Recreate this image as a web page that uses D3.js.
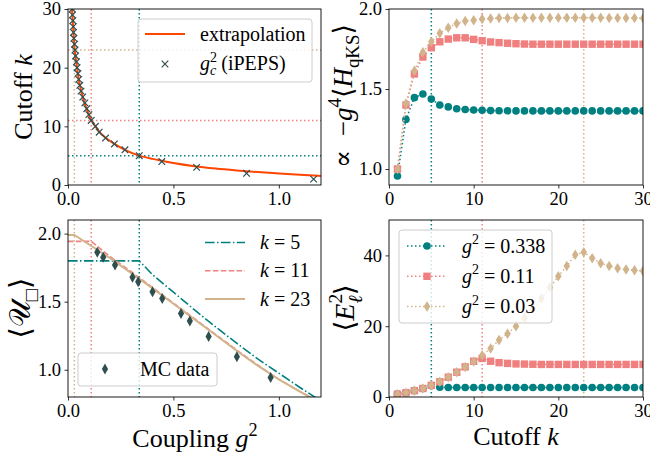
<!DOCTYPE html>
<html>
<head>
<meta charset="utf-8">
<script src="https://cdn.jsdelivr.net/npm/d3@7"></script>
<style>
  body { margin: 0; background: #fff; }
  text { font-family: "Liberation Serif", "DejaVu Serif", serif; fill: #000; }
</style>
</head>
<body>
<svg id="chart" width="650" height="457"></svg>
<script>
// ---- data ----
var cutoffK = [1, 2, 3, 4, 5, 6, 7, 8, 9, 10, 11, 12, 13, 14, 15, 16, 17, 18, 19, 20, 21, 22, 23, 24, 25, 26, 27, 28, 29, 30];

// top left: critical coupling from iPEPS and extrapolation
var gcIpeps = [1.165, 0.847, 0.61, 0.445, 0.338, 0.27, 0.22, 0.178, 0.148, 0.13, 0.11, 0.099, 0.089, 0.08, 0.07, 0.062, 0.056, 0.051, 0.047, 0.043, 0.04, 0.036, 0.033, 0.031, 0.028, 0.026, 0.025, 0.023, 0.021, 0.02];
var extrapG = [0.019, 0.022, 0.026, 0.03, 0.035, 0.04, 0.05, 0.06, 0.07, 0.08, 0.09, 0.1, 0.11, 0.13, 0.15, 0.18, 0.22, 0.27, 0.338, 0.4, 0.45, 0.5, 0.6, 0.7, 0.8, 0.9, 1.0, 1.1, 1.2];
var extrapK = [30, 28.3, 26, 23.7, 22, 20.8, 18.2, 16.4, 15, 13.8, 12.8, 11.8, 11.1, 10, 9, 8, 7, 6, 5, 4.45, 4.1, 3.75, 3.2, 2.8, 2.48, 2.2, 1.97, 1.75, 1.55];

// top right: -g^4 <H_qKS>
var hqTeal = [0.956, 1.31, 1.446, 1.469, 1.437, 1.40, 1.388, 1.377, 1.372, 1.369, 1.367, 1.365, 1.364, 1.364, 1.363, 1.363, 1.363, 1.363, 1.363, 1.363, 1.363, 1.363, 1.363, 1.363, 1.363, 1.363, 1.363, 1.363, 1.363, 1.363];
var hqCoral = [1.0, 1.40, 1.594, 1.70, 1.758, 1.795, 1.812, 1.82, 1.82, 1.81, 1.802, 1.794, 1.79, 1.786, 1.783, 1.781, 1.78, 1.78, 1.78, 1.78, 1.78, 1.78, 1.78, 1.78, 1.78, 1.78, 1.78, 1.78, 1.78, 1.78];
var hqTan = [1.0, 1.41, 1.614, 1.73, 1.795, 1.848, 1.883, 1.91, 1.925, 1.93, 1.937, 1.94, 1.943, 1.944, 1.945, 1.945, 1.945, 1.945, 1.945, 1.945, 1.945, 1.945, 1.945, 1.945, 1.945, 1.944, 1.944, 1.943, 1.943, 1.942];

// bottom right: <E^2>
var e2Teal = [0.8, 1.2, 1.8, 2.4, 3.2, 2.75, 2.7, 2.7, 2.7, 2.7, 2.7, 2.7, 2.7, 2.7, 2.7, 2.7, 2.7, 2.7, 2.7, 2.7, 2.7, 2.7, 2.7, 2.7, 2.7, 2.7, 2.7, 2.7, 2.7, 2.7];
var e2Coral = [0.8, 1.2, 1.8, 2.4, 3.3, 4.3, 5.6, 7.0, 8.5, 10.1, 10.9, 10.1, 9.7, 9.5, 9.35, 9.3, 9.25, 9.2, 9.2, 9.2, 9.2, 9.2, 9.2, 9.2, 9.2, 9.2, 9.2, 9.2, 9.2, 9.2];
var e2Tan = [0.8, 1.2, 1.8, 2.4, 3.3, 4.3, 5.6, 7.0, 8.5, 10.0, 11.8, 13.7, 16.1, 17.9, 20.0, 22.3, 25.0, 27.8, 30.9, 34.1, 37.0, 40.2, 40.9, 39.2, 37.8, 37.0, 36.4, 36.0, 35.8, 35.6];

// bottom left: plaquette expectation value
var mcG = [0.139, 0.167, 0.223, 0.306, 0.333, 0.401, 0.447, 0.536, 0.578, 0.667, 0.801, 0.961];
var mcU = [1.864, 1.827, 1.770, 1.679, 1.647, 1.573, 1.523, 1.413, 1.358, 1.244, 1.096, 0.943];
var u5G = [0, 0.338, 0.4, 0.5, 0.6, 0.7, 0.8, 0.9, 1.0, 1.1, 1.2];
var u5U = [1.80, 1.80, 1.70, 1.57, 1.44, 1.315, 1.195, 1.08, 0.975, 0.87, 0.77];
var u11G = [0, 0.11, 0.2, 0.3, 0.4, 0.5, 0.6, 0.7, 0.8, 0.9, 1.0, 1.1, 1.2];
var u11U = [1.943, 1.943, 1.83, 1.72, 1.605, 1.49, 1.375, 1.26, 1.145, 1.035, 0.93, 0.84, 0.755];
var u23G = [0, 0.03, 0.1, 0.2, 0.3, 0.4, 0.5, 0.6, 0.7, 0.8, 0.9, 1.0, 1.1, 1.2];
var u23U = [1.99, 1.99, 1.92, 1.82, 1.71, 1.60, 1.485, 1.37, 1.255, 1.14, 1.03, 0.93, 0.84, 0.755];

// marked couplings / cutoffs
var markG = [0.338, 0.11, 0.03];
var markK = [5, 11, 23];
var markColor = ["#008080", "#f08080", "#d2b48c"];
var gLabels = ["0.338", "0.11", "0.03"];

var gTicks = [0, 0.5, 1.0];
var kTicks = [0, 10, 20, 30];

var darkSlate = "#2f4f4f";
var orange = "#ff4500";

var svg = d3.select("#chart");
var tickFont = 18.5;
var legFont = 20;
var labelFont = 26;

// text with italic / sup / sub pieces; "stack" puts a sub right under the previous sup
function richText(parent, x, y, parts, fs, anchor) {
  var t = parent.append("text").attr("x", x).attr("y", y)
    .attr("font-size", fs).attr("text-anchor", anchor || "start");
  var shift = 0, prev = null;
  parts.forEach(function(p) {
    var s = t.append("tspan").text(p.t);
    var target = p.sup ? -0.42 * fs : p.sub ? 0.27 * fs : 0;
    if (target - shift !== 0) s.attr("dy", target - shift);
    shift = target;
    if (p.sup || p.sub) s.attr("font-size", fs * 0.7);
    if (p.i) s.attr("font-style", "italic");
    if (p.stack && prev) s.attr("dx", -prev.node().getComputedTextLength());
    prev = s;
  });
  return t;
}

var clipId = 0;
function makePanel(x0, x1, y0, y1, xDom, yDom, xTicks, yTicks, xFmt, yFmt) {
  var x = d3.scaleLinear().domain(xDom).range([x0, x1]);
  var y = d3.scaleLinear().domain(yDom).range([y1, y0]);
  var g = svg.append("g");
  clipId++;
  svg.append("clipPath").attr("id", "clip" + clipId)
    .append("rect").attr("x", x0).attr("y", y0).attr("width", x1 - x0).attr("height", y1 - y0);
  var plot = g.append("g").attr("clip-path", "url(#clip" + clipId + ")");

  var xa = g.append("g").attr("transform", "translate(0," + y1 + ")")
    .call(d3.axisBottom(x).tickValues(xTicks).tickFormat(xFmt).tickSize(3.5).tickSizeOuter(0).tickPadding(3));
  var ya = g.append("g").attr("transform", "translate(" + x0 + ",0)")
    .call(d3.axisLeft(y).tickValues(yTicks).tickFormat(yFmt).tickSize(3.5).tickSizeOuter(0).tickPadding(3.5));
  [xa, ya].forEach(function(a) {
    a.select(".domain").remove();
    a.selectAll("text").attr("font-size", tickFont).attr("font-family", null);
    a.selectAll("line").attr("stroke", "#000").attr("stroke-width", 0.8);
  });
  var frame = g.append("rect").attr("x", x0).attr("y", y0).attr("width", x1 - x0).attr("height", y1 - y0)
    .attr("fill", "none").attr("stroke", "#000").attr("stroke-width", 0.9);
  return { g: g, plot: plot, x: x, y: y, frame: frame, x0: x0, x1: x1, y0: y0, y1: y1 };
}

function dotted(sel, color) {
  return sel.attr("stroke", color).attr("stroke-width", 1.5).attr("stroke-dasharray", "1.5,2.5").attr("fill", "none");
}

function diamondPath(w, h) {
  return "M0," + (-h / 2) + "L" + (w / 2) + ",0L0," + (h / 2) + "L" + (-w / 2) + ",0Z";
}

function marker(sel, type, color) {
  if (type === "circle") {
    sel.append("circle").attr("r", 3.8).attr("fill", color);
  } else if (type === "square") {
    sel.append("rect").attr("x", -3.7).attr("y", -3.7).attr("width", 7.4).attr("height", 7.4).attr("fill", color);
  } else if (type === "diamond") {
    sel.append("path").attr("d", diamondPath(6.6, 10.5)).attr("fill", color);
  } else if (type === "mc") {
    sel.append("path").attr("d", diamondPath(6.2, 11)).attr("fill", color);
  } else if (type === "cross") {
    sel.append("path").attr("d", "M-3.3,-3.3L3.3,3.3M-3.3,3.3L3.3,-3.3")
      .attr("stroke", color).attr("stroke-width", 1.2).attr("fill", "none");
  }
}

function legendBox(parent, x, y, w, h) {
  parent.append("rect").attr("x", x).attr("y", y).attr("width", w).attr("height", h)
    .attr("rx", 3).attr("fill", "#fff").attr("fill-opacity", 0.8)
    .attr("stroke", "#cccccc").attr("stroke-width", 1);
}

var fmt1 = d3.format(".1f");
var fmt0 = d3.format("d");

// ================= top left =================
var p1 = makePanel(68, 321, 9, 185, [0, 1.2], [0, 30], gTicks, [0, 10, 20, 30], fmt1, fmt0);
markG.forEach(function(v, i) {
  dotted(p1.plot.append("line"), markColor[i]).attr("x1", p1.x(v)).attr("x2", p1.x(v)).attr("y1", p1.y0).attr("y2", p1.y1);
  dotted(p1.plot.append("line"), markColor[i]).attr("x1", p1.x0).attr("x2", p1.x1).attr("y1", p1.y(markK[i])).attr("y2", p1.y(markK[i]));
});
var extrapData = extrapG.map(function(g, i) { return [g, extrapK[i]]; });
p1.plot.append("path").datum(extrapData)
  .attr("d", d3.line().x(function(d) { return p1.x(d[0]); }).y(function(d) { return p1.y(d[1]); }).curve(d3.curveMonotoneX))
  .attr("fill", "none").attr("stroke", orange).attr("stroke-width", 2);
p1.plot.selectAll(".cx").data(gcIpeps).enter().append("g").attr("class", "cx")
  .attr("transform", function(d, i) { return "translate(" + p1.x(d) + "," + p1.y(cutoffK[i]) + ")"; })
  .each(function() { marker(d3.select(this), "cross", darkSlate); });
p1.frame.raise();
legendBox(p1.g, 138, 19, 174, 63);
p1.g.append("line").attr("x1", 145).attr("x2", 185).attr("y1", 34).attr("y2", 34).attr("stroke", orange).attr("stroke-width", 2);
richText(p1.g, 200, 40.5, [{ t: "extrapolation" }], legFont);
marker(p1.g.append("g").attr("transform", "translate(165,64)"), "cross", darkSlate);
richText(p1.g, 200, 70, [{ t: "g", i: 1 }, { t: "2", sup: 1 }, { t: "c", i: 1, sub: 1, stack: 1 }, { t: " (iPEPS)" }], legFont);
richText(svg.append("g").attr("transform", "translate(32,97) rotate(-90)"), 0, 0,
  [{ t: "Cutoff " }, { t: "k", i: 1 }], labelFont, "middle");

// ================= top right =================
var p2 = makePanel(389, 643, 9, 185, [0, 30], [0.9, 2.0], kTicks, [1.0, 1.5, 2.0], fmt0, fmt1);
markK.forEach(function(v, i) {
  dotted(p2.plot.append("line"), markColor[i]).attr("x1", p2.x(v)).attr("x2", p2.x(v)).attr("y1", p2.y0).attr("y2", p2.y1);
});
function series(p, vals, color, type) {
  var pts = vals.map(function(v, i) { return [cutoffK[i], v]; });
  dotted(p.plot.append("path").datum(pts), color)
    .attr("d", d3.line().x(function(d) { return p.x(d[0]); }).y(function(d) { return p.y(d[1]); }));
  p.plot.selectAll(null).data(pts).enter().append("g")
    .attr("transform", function(d) { return "translate(" + p.x(d[0]) + "," + p.y(d[1]) + ")"; })
    .each(function() { marker(d3.select(this), type, color); });
}
series(p2, hqTeal, markColor[0], "circle");
series(p2, hqCoral, markColor[1], "square");
series(p2, hqTan, markColor[2], "diamond");
p2.frame.raise();
richText(svg.append("g").attr("transform", "translate(352,96) rotate(-90)"), 0, 0,
  [{ t: "\u221D\u2002\u2212" }, { t: "g", i: 1 }, { t: "4", sup: 1 }, { t: "\u27E8" }, { t: "H", i: 1 },
   { t: "qKS", sub: 1 }, { t: "\u27E9" }], 27, "middle");

// ================= bottom left =================
var p3 = makePanel(68, 321, 220, 397, [0, 1.2], [0.8, 2.1], gTicks, [1.0, 1.5, 2.0], fmt1, fmt1);
markG.forEach(function(v, i) {
  dotted(p3.plot.append("line"), markColor[i]).attr("x1", p3.x(v)).attr("x2", p3.x(v)).attr("y1", p3.y0).attr("y2", p3.y1);
});
var uLine = d3.line().x(function(d) { return p3.x(d[0]); }).y(function(d) { return p3.y(d[1]); });
var uSets = [
  { g: u5G, u: u5U, c: markColor[0], dash: "9.6,2.4,1.5,2.4", w: 1.6, label: "5" },
  { g: u11G, u: u11U, c: markColor[1], dash: "5.5,2.4", w: 1.6, label: "11" },
  { g: u23G, u: u23U, c: markColor[2], dash: null, w: 2, label: "23" }
];
uSets.forEach(function(s) {
  p3.plot.append("path").datum(s.g.map(function(g, i) { return [g, s.u[i]]; }))
    .attr("d", uLine).attr("fill", "none").attr("stroke", s.c).attr("stroke-width", s.w)
    .attr("stroke-dasharray", s.dash);
});
p3.plot.selectAll(null).data(mcG).enter().append("g")
  .attr("transform", function(d, i) { return "translate(" + p3.x(d) + "," + p3.y(mcU[i]) + ")"; })
  .each(function() { marker(d3.select(this), "mc", darkSlate); });
p3.frame.raise();
uSets.forEach(function(s, i) {
  var yy = 242.5 + i * 28.3;
  p3.g.append("line").attr("x1", 205).attr("x2", 245).attr("y1", yy).attr("y2", yy)
    .attr("stroke", s.c).attr("stroke-width", s.w).attr("stroke-dasharray", s.dash);
  richText(p3.g, 260, yy + 6.5, [{ t: "k", i: 1 }, { t: " = " + s.label }], legFont);
});
legendBox(p3.g, 78, 353, 139, 33);
marker(p3.g.append("g").attr("transform", "translate(105,369)"), "mc", darkSlate);
richText(p3.g, 140, 376, [{ t: "MC data" }], legFont);
richText(svg.append("g").attr("transform", "translate(30,308) rotate(-90)"), 0, 0,
  [{ t: "\u27E8" }, { t: "\uD835\uDCB0" }, { t: "\u25A1", sub: 1 }, { t: "\u27E9" }], 29, "middle");
richText(svg, 195, 447, [{ t: "Coupling " }, { t: "g", i: 1 }, { t: "2", sup: 1 }], labelFont, "middle");

// ================= bottom right =================
var p4 = makePanel(389, 643, 220, 397, [0, 30], [0, 50], kTicks, [0, 20, 40], fmt0, fmt0);
markK.forEach(function(v, i) {
  dotted(p4.plot.append("line"), markColor[i]).attr("x1", p4.x(v)).attr("x2", p4.x(v)).attr("y1", p4.y0).attr("y2", p4.y1);
});
series(p4, e2Teal, markColor[0], "circle");
series(p4, e2Coral, markColor[1], "square");
series(p4, e2Tan, markColor[2], "diamond");
p4.frame.raise();
legendBox(p4.g, 399, 230, 153, 93);
var legTypes = ["circle", "square", "diamond"];
gLabels.forEach(function(lab, i) {
  var yy = 246 + i * 30.3;
  dotted(p4.g.append("line"), markColor[i]).attr("x1", 407).attr("x2", 447).attr("y1", yy).attr("y2", yy);
  marker(p4.g.append("g").attr("transform", "translate(427," + yy + ")"), legTypes[i], markColor[i]);
  richText(p4.g, 462, yy + 6.5, [{ t: "g", i: 1 }, { t: "2", sup: 1 }, { t: " = " + lab }], legFont);
});
richText(svg.append("g").attr("transform", "translate(354,308) rotate(-90)"), 0, 0,
  [{ t: "\u27E8" }, { t: "E", i: 1 }, { t: "2", sup: 1 }, { t: "\u2113", sub: 1, i: 1, stack: 1 }, { t: "\u27E9" }], 28, "middle");
richText(svg, 516, 445, [{ t: "Cutoff " }, { t: "k", i: 1 }], labelFont, "middle");
</script>
</body>
</html>
